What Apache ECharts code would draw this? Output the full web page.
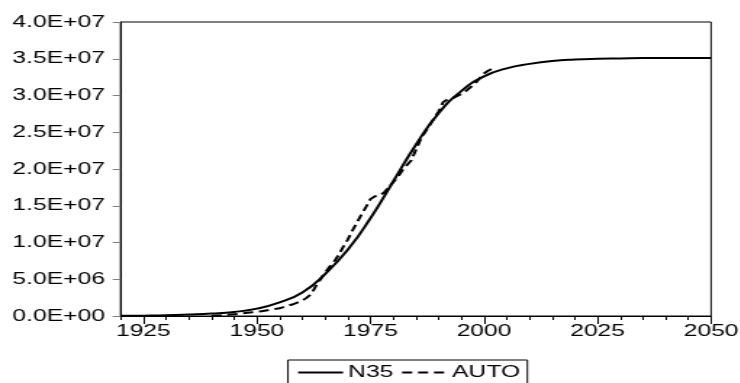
<!DOCTYPE html>
<html>
<head>
<meta charset="utf-8">
<script src="https://cdn.jsdelivr.net/npm/echarts@6.0.0/dist/echarts.min.js"></script>
<style>
  html, body { margin: 0; padding: 0; background: #fff; overflow: hidden; }
  /* the source picture is stretched sideways, so draw narrow and scale x */
  #chart { width: 510px; height: 383px; transform: scaleX(1.45); transform-origin: 0 0; }
</style>
</head>
<body>
<div id="chart"></div>
<script>
const xMin = 1920
const xMax = 2050
const xTickLabels = [1925, 1950, 1975, 2000, 2025, 2050]
const yTickLabels = ['0.0E+00', '5.0E+06', '1.0E+07', '1.5E+07', '2.0E+07', '2.5E+07', '3.0E+07', '3.5E+07', '4.0E+07']

// N35 (fitted curve), read every 5 years
const n35Years = [1920, 1925, 1930, 1935, 1940, 1945, 1950, 1955, 1960, 1965, 1970, 1975, 1980,
  1985, 1990, 1995, 2000, 2005, 2010, 2015, 2020, 2025, 2030, 2035, 2040, 2045, 2050]
const n35Values = [2.0e4, 5.0e4, 1.0e5, 2.0e5, 3.3e5, 5.5e5, 1.0e6, 1.85e6, 3.2e6, 5.7e6, 9.0e6, 1.33e7, 1.83e7,
  2.33e7, 2.76e7, 3.06e7, 3.26e7, 3.37e7, 3.43e7, 3.47e7, 3.49e7, 3.50e7, 3.505e7, 3.51e7, 3.51e7, 3.51e7, 3.51e7]

// AUTO (observed), yearly from 1940 to 2002
const autoStartYear = 1940
const autoValues = [
  5.0e4, 8.0e4, 1.0e5, 1.5e5, 2.0e5, 2.5e5, 3.0e5, 3.8e5, 4.5e5, 5.0e5,
  5.5e5, 6.5e5, 7.5e5, 8.5e5, 9.5e5, 1.05e6, 1.25e6, 1.45e6, 1.6e6, 1.85e6,
  2.1e6, 2.5e6, 3.0e6, 4.1e6, 5.0e6, 5.9e6, 6.7e6, 7.4e6, 8.3e6, 9.4e6,
  1.04e7, 1.16e7, 1.27e7, 1.38e7, 1.48e7, 1.59e7, 1.63e7, 1.64e7, 1.68e7, 1.75e7,
  1.82e7, 1.89e7, 1.98e7, 2.05e7, 2.12e7, 2.26e7, 2.40e7, 2.50e7, 2.59e7, 2.69e7,
  2.78e7, 2.91e7, 2.95e7, 2.96e7, 2.99e7, 3.02e7, 3.06e7, 3.11e7, 3.16e7, 3.23e7,
  3.30e7, 3.34e7, 3.37e7
]

const font = { fontFamily: "'Liberation Sans', Arial, sans-serif", fontSize: 17, color: '#000' }

const option = {
  animation: false,
  grid: {
    left: 83.2,
    right: 19.6,
    top: 22,
    bottom: 67,
    show: true,
    borderColor: '#000',
    borderWidth: 1,
    outerBoundsMode: 'none',
  },
  legend: {
    left: 198.6,
    top: 360,
    padding: [4, 5, 14, 6],
    borderColor: '#000',
    borderWidth: 1,
    itemWidth: 31,
    itemHeight: 10,
    itemGap: 5,
    textStyle: { ...font, padding: [0, 0, 0, -1.5] },
    // hide the dot that line series put on their legend icon
    itemStyle: { color: 'rgba(0,0,0,0)', borderWidth: 0 },
    data: ['N35', 'AUTO'],
  },
  xAxis: [
    {
      type: 'value',
      min: xMin,
      max: xMax,
      interval: 5,
      axisLine: { lineStyle: { color: '#000', width: 1 } },
      axisTick: { length: 4, lineStyle: { color: '#000' } },
      axisLabel: {
        ...font,
        margin: 7,
        customValues: xTickLabels,
        formatter: v => String(v),
      },
      splitLine: { show: false },
    },
    {
      type: 'value',
      min: xMin,
      max: xMax,
      position: 'bottom',
      axisLine: { show: false },
      axisTick: { length: 8, customValues: xTickLabels, lineStyle: { color: '#000' } },
      axisLabel: { show: false },
      splitLine: { show: false },
    },
  ],
  yAxis: {
    type: 'value',
    min: 0,
    max: 4e7,
    interval: 5e6,
    axisLine: { show: true, lineStyle: { color: '#000', width: 1 } },
    axisTick: { show: true, length: 5.5, lineStyle: { color: '#808080' } },
    axisLabel: {
      ...font,
      margin: 10.8,
      formatter: v => yTickLabels[Math.round(v / 5e6)],
    },
    splitLine: { show: false },
  },
  series: [
    {
      name: 'N35',
      type: 'line',
      smooth: 0.5,
      symbol: 'none',
      lineStyle: { color: '#000', width: 2 },
      itemStyle: { color: '#000' },
      data: n35Years.map((y, i) => [y, n35Values[i]]),
    },
    {
      name: 'AUTO',
      type: 'line',
      symbol: 'none',
      lineStyle: { color: '#000', width: 2, type: [7, 4] },
      itemStyle: { color: '#000' },
      data: autoValues.map((v, i) => [autoStartYear + i, v]),
    },
  ],
}

const myChart = echarts.init(document.getElementById('chart'))
myChart.setOption(option)
</script>
</body>
</html>
